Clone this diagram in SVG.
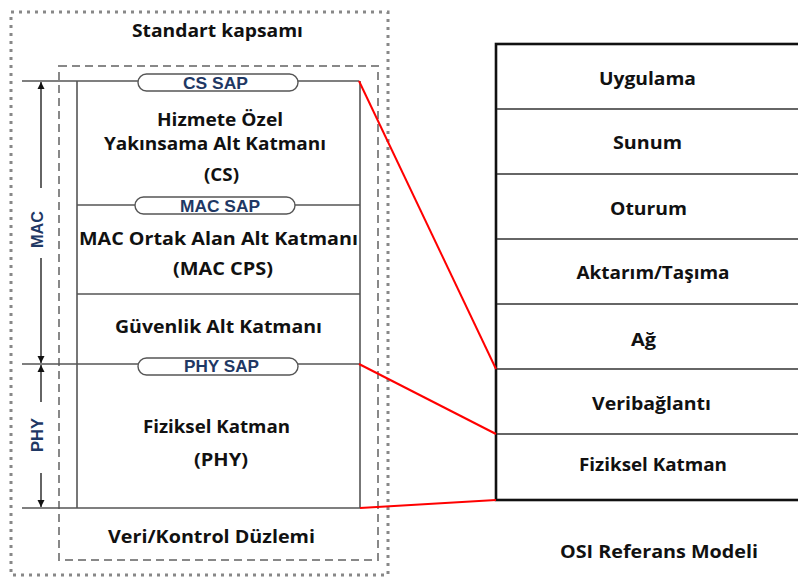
<svg xmlns="http://www.w3.org/2000/svg" width="798" height="578" viewBox="0 0 798 578">
<defs>
<style>
.t{font-family:"Open Sans","Noto Sans","Liberation Sans",sans-serif;font-weight:bold;font-size:17.5px;fill:#111;text-anchor:middle}
.sap{font-family:"Liberation Sans",Arial,sans-serif;font-weight:bold;font-size:17px;fill:#1f3864;text-anchor:middle}
.lbl{font-family:"Liberation Sans",Arial,sans-serif;font-weight:bold;font-size:16px;fill:#1f3864;text-anchor:middle}
.ln{stroke:#555;stroke-width:1.6;fill:none}
.pill{fill:#fff;stroke:#555;stroke-width:1.4}
.osi{stroke:#333;stroke-width:1.6;fill:none}
.red{stroke:#f00;stroke-width:2;fill:none}
.ar{stroke:#111;stroke-width:1.3;fill:none}
</style>
<marker id="ah" viewBox="0 0 10 10" refX="10" refY="5" markerWidth="7" markerHeight="9" markerUnits="userSpaceOnUse" orient="auto"><path d="M0,0 L10,5 L0,10 z" fill="#111"/></marker>
</defs>
<rect width="798" height="578" fill="#fff"/>
<g id="scope">
<rect x="11" y="12" width="377" height="563" fill="none" stroke="#888" stroke-width="3" stroke-dasharray="3,5"/>
<text class="t" x="217.5" y="37" textLength="171" lengthAdjust="spacingAndGlyphs">Standart kapsamı</text>
</g>
<g id="plane">
<rect x="59" y="66" width="319" height="494" fill="none" stroke="#888" stroke-width="2" stroke-dasharray="8,5"/>
<text class="t" x="211.5" y="543" textLength="207" lengthAdjust="spacingAndGlyphs">Veri/Kontrol Düzlemi</text>
</g>
<g id="stack">
<line class="ln" x1="22" y1="81" x2="359" y2="81"/>
<line class="ln" x1="77" y1="81" x2="77" y2="508"/>
<line class="ln" x1="360" y1="81" x2="360" y2="508"/>
<line class="ln" x1="77" y1="205" x2="360" y2="205"/>
<line class="ln" x1="77" y1="294" x2="360" y2="294"/>
<line class="ln" x1="22" y1="364" x2="360" y2="364"/>
<line class="ln" x1="22" y1="508" x2="360" y2="508"/>
</g>
<g id="cs-sap">
<rect class="pill" x="138" y="74" width="160" height="17" rx="8.5"/>
<text class="sap" x="215.5" y="88.5" textLength="65" lengthAdjust="spacingAndGlyphs">CS SAP</text>
</g>
<g id="cs">
<text class="t" x="220" y="126" textLength="126" lengthAdjust="spacingAndGlyphs">Hizmete Özel</text>
<text class="t" x="215" y="150" textLength="222" lengthAdjust="spacingAndGlyphs">Yakınsama Alt Katmanı</text>
<text class="t" x="221.5" y="181" textLength="35" lengthAdjust="spacingAndGlyphs">(CS)</text>
</g>
<g id="mac-sap">
<rect class="pill" x="135" y="197" width="160" height="17" rx="8.5"/>
<text class="sap" x="220" y="211.5" textLength="80" lengthAdjust="spacingAndGlyphs">MAC SAP</text>
</g>
<g id="mac-cps">
<text class="t" x="218.5" y="245" textLength="279" lengthAdjust="spacingAndGlyphs">MAC Ortak Alan Alt Katmanı</text>
<text class="t" x="223" y="275" textLength="100" lengthAdjust="spacingAndGlyphs">(MAC CPS)</text>
</g>
<g id="security">
<text class="t" x="218.5" y="333" textLength="207" lengthAdjust="spacingAndGlyphs">Güvenlik Alt Katmanı</text>
</g>
<g id="phy-sap">
<rect class="pill" x="138" y="358" width="160" height="17" rx="8.5"/>
<text class="sap" x="221.5" y="372" textLength="75" lengthAdjust="spacingAndGlyphs">PHY SAP</text>
</g>
<g id="phy">
<text class="t" x="216.5" y="433" textLength="147" lengthAdjust="spacingAndGlyphs">Fiziksel Katman</text>
<text class="t" x="221" y="466" textLength="54" lengthAdjust="spacingAndGlyphs">(PHY)</text>
</g>
<g id="mac-range">
<line class="ar" x1="41" y1="188" x2="41" y2="82" marker-end="url(#ah)"/>
<line class="ar" x1="41" y1="258" x2="41" y2="363" marker-end="url(#ah)"/>
<text class="lbl" transform="translate(43,229.5) rotate(-90)" textLength="37" lengthAdjust="spacingAndGlyphs">MAC</text>
</g>
<g id="phy-range">
<line class="ar" x1="41" y1="402" x2="41" y2="365" marker-end="url(#ah)"/>
<line class="ar" x1="41" y1="473" x2="41" y2="507" marker-end="url(#ah)"/>
<text class="lbl" transform="translate(43,435) rotate(-90)" textLength="34" lengthAdjust="spacingAndGlyphs">PHY</text>
</g>
<g id="osi">
<rect x="496" y="44" width="310" height="456" fill="#fff" stroke="#111" stroke-width="2.6"/>
<line class="osi" x1="497" y1="109" x2="798" y2="109"/>
<line class="osi" x1="497" y1="174" x2="798" y2="174"/>
<line class="osi" x1="497" y1="239" x2="798" y2="239"/>
<line class="osi" x1="497" y1="304" x2="798" y2="304"/>
<line class="osi" x1="497" y1="369" x2="798" y2="369"/>
<line class="osi" x1="497" y1="434" x2="798" y2="434"/>
<text class="t" x="647.5" y="85" textLength="97" lengthAdjust="spacingAndGlyphs">Uygulama</text>
<text class="t" x="647.5" y="149" textLength="69" lengthAdjust="spacingAndGlyphs">Sunum</text>
<text class="t" x="648.5" y="215" textLength="77" lengthAdjust="spacingAndGlyphs">Oturum</text>
<text class="t" x="653" y="279" textLength="153" lengthAdjust="spacingAndGlyphs">Aktarım/Taşıma</text>
<text class="t" x="643.5" y="346" textLength="25" lengthAdjust="spacingAndGlyphs">Ağ</text>
<text class="t" x="651.5" y="410" textLength="119" lengthAdjust="spacingAndGlyphs">Veribağlantı</text>
<text class="t" x="653" y="471" textLength="148" lengthAdjust="spacingAndGlyphs">Fiziksel Katman</text>
<text class="t" x="659" y="558" textLength="198" lengthAdjust="spacingAndGlyphs">OSI Referans Modeli</text>
</g>
<g id="connectors">
<line class="red" x1="359" y1="81" x2="496" y2="369"/>
<line class="red" x1="359" y1="364" x2="496" y2="434"/>
<line class="red" x1="360" y1="508" x2="496" y2="500"/>
</g>
</svg>
